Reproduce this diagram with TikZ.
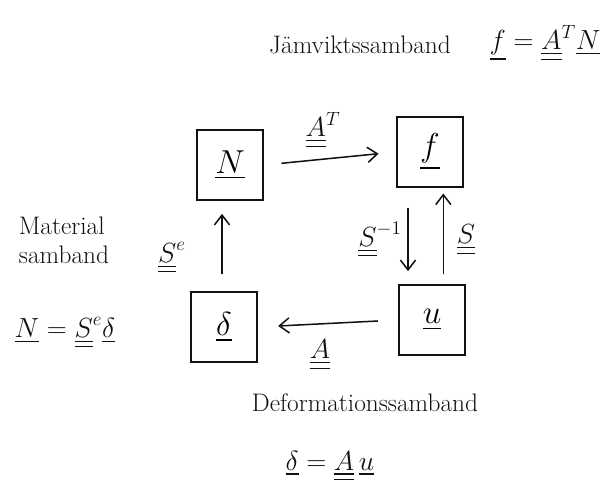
\documentclass[tikz,border=0pt]{standalone}
\usepackage{amsmath}
\usepackage{fontspec}
\usepackage{xcolor}
\usepackage{tikz}
\usetikzlibrary{calc,positioning,arrows.meta}
\definecolor{ink}{HTML}{111111}
\newcommand{\BoxS}{\fontsize{30}{34}\selectfont}
\newcommand{\LabS}{\fontsize{21}{25}\selectfont}
\newcommand{\TxtS}{\fontsize{19}{22}\selectfont}
\newcommand{\uv}[1]{\underline{#1}}
\newcommand{\um}[1]{\underline{\underline{#1}}}
\tikzset{
  >={Straight Barb[length=2.6mm,width=4mm]},
  qbox/.style={draw=ink, line width=0.45mm, minimum width=50pt, minimum height=52pt, font=\BoxS, inner sep=1mm},
  flow/.style={->, draw=ink, line width=0.4mm},
  lab/.style={font=\LabS, text=ink, inner sep=1pt},
  txt/.style={font=\TxtS, text=ink, align=left, inner sep=1pt},
}
\begin{document}
\begin{tikzpicture}[x=0.75pt,y=-0.75pt]
  \useasboundingbox (0,0) rectangle (600,496);
  % the four quantities
  \node[qbox] (N) at (230,165) {$\uv{N}$};
  \node[qbox] (f) at (430,152) {$\uv{f}$};
  \node[qbox] (d) at (224,327) {$\uv{\delta}$};
  \node[qbox] (u) at (432,320) {$\uv{u}$};
  % relations
  \draw[flow, shorten <=13pt, shorten >=13pt] (N.east) -- (f.west);
  \draw[flow, shorten <=15pt, shorten >=15pt] (u.west) -- (d.east);
  \draw[flow, shorten <=13pt, shorten >=10pt] ([xshift=-1.5pt]d.north) -- ([xshift=-6pt]N.south);
  \draw[flow, shorten <=15pt, shorten >=10pt] ([xshift=-16.5pt]f.south) -- ([xshift=-18pt]u.north);
  \draw[flow, shorten <=7.5pt, shorten >=4.5pt] ([xshift=8.5pt]u.north) -- ([xshift=10pt]f.south);
  % arrow labels
  \node[lab] (lAT) at (323,130) {$\um{A}^{T}$};
  \node[lab] (lA) at (320,355) {$\um{A}$};
  \node[lab] (lSe) at (172,258) {$\um{S}^{e}$};
  \node[lab] (lSi) at (380,240) {$\um{S}^{-1}$};
  \node[lab] (lS) at (466,240) {$\um{S}$};
  % relation names
  \node[txt] (jam) at (360,45) {Jämviktssamband};
  \node[lab] (jameq) at (545,43) {$\uv{f}=\um{A}^{T}\uv{N}$};
  \node[txt] (mat) at (64,240) {Material\\samband};
  \node[lab] (mateq) at (65,333) {$\uv{N}=\um{S}^{e}\uv{\delta}$};
  \node[txt] (def) at (365,403) {Deformationssamband};
  \node[lab] (defeq) at (330,466) {$\uv{\delta}=\um{A}\,\uv{u}$};
\end{tikzpicture}
\end{document}
